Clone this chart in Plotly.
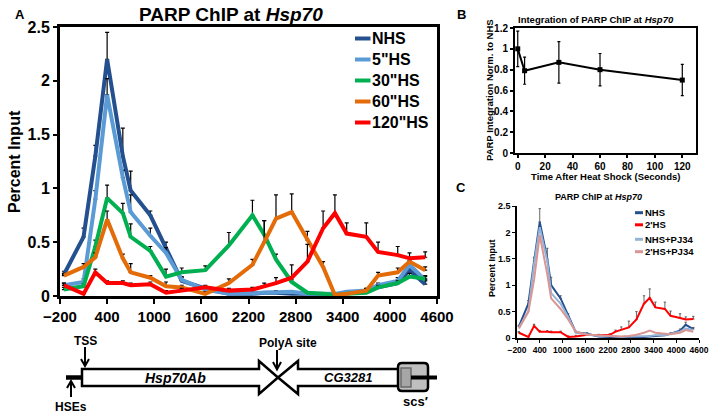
import plotly.graph_objects as go

W, H = 714, 417
FONT = "Liberation Sans"

# ---------------- data ----------------
# primer positions (bp relative to Hsp70 TSS)
positions = [-150, 100, 250, 400, 600, 700, 950, 1150, 1350, 1650, 1950, 2250,
             2400, 2550, 2750, 2950, 3150, 3300, 3450, 3700, 3850, 4100, 4250, 4450]

# Panel A: PARP ChIP time course (percent input)
nhs_a = [0.20, 0.55, 1.30, 2.20, 1.30, 0.98, 0.75, 0.45, 0.14, 0.07, 0.02, 0.02,
         0.03, 0.03, 0.02, 0.02, 0.01, 0.01, 0.03, 0.04, 0.08, 0.12, 0.24, 0.11]
hs5_a = [0.10, 0.13, 0.90, 1.87, 1.10, 0.78, 0.56, 0.40, 0.15, 0.06, 0.02, 0.03,
         0.03, 0.04, 0.04, 0.02, 0.02, 0.02, 0.04, 0.05, 0.10, 0.14, 0.29, 0.15]
hs30_a = [0.06, 0.09, 0.46, 0.91, 0.77, 0.55, 0.42, 0.18, 0.22, 0.24, 0.47, 0.75,
          0.57, 0.34, 0.13, 0.03, 0.02, 0.01, 0.02, 0.03, 0.08, 0.12, 0.18, 0.16]
hs60_a = [0.19, 0.27, 0.36, 0.71, 0.35, 0.22, 0.17, 0.09, 0.08, 0.02, 0.12, 0.29,
          0.50, 0.72, 0.78, 0.52, 0.27, 0.01, 0.02, 0.05, 0.19, 0.22, 0.32, 0.24]
hs120_a = [0.10, 0.02, 0.22, 0.12, 0.12, 0.10, 0.11, 0.03, 0.05, 0.08, 0.05, 0.06,
           0.09, 0.12, 0.17, 0.32, 0.63, 0.77, 0.58, 0.55, 0.41, 0.38, 0.35, 0.36]

err_nhs_a = [0.03, 0.08, 0.10, 0.25, 0.26, 0.18, 0.04, 0.05, 0.03, 0.02, 0.01, 0.01,
             0.01, 0.01, 0.01, 0.01, 0.01, 0.01, 0.01, 0.02, 0.02, 0.03, 0.03, 0.03]
err_hs5_a = [0.02, 0.03, 0.08, 0.15, 0.07, 0.16, 0.07, 0.05, 0.03, 0.02, 0.01, 0.01,
             0.01, 0.01, 0.01, 0.01, 0.01, 0.01, 0.01, 0.02, 0.02, 0.03, 0.04, 0.03]
err_hs30_a = [0.02, 0.02, 0.06, 0.12, 0.09, 0.12, 0.04, 0.07, 0.04, 0.04, 0.12, 0.14,
              0.13, 0.05, 0.02, 0.01, 0.01, 0.01, 0.01, 0.01, 0.02, 0.02, 0.03, 0.03]
err_hs60_a = [0.02, 0.03, 0.04, 0.08, 0.04, 0.08, 0.02, 0.04, 0.02, 0.02, 0.04, 0.05,
              0.20, 0.22, 0.17, 0.08, 0.05, 0.01, 0.01, 0.02, 0.03, 0.04, 0.04, 0.03]
err_hs120_a = [0.02, 0.01, 0.03, 0.02, 0.02, 0.02, 0.02, 0.02, 0.02, 0.02, 0.02, 0.02,
               0.03, 0.05, 0.12, 0.16, 0.16, 0.17, 0.10, 0.13, 0.09, 0.08, 0.05, 0.05]

names_a = ["NHS", '5"HS', '30"HS', '60"HS', '120"HS']
colors_a = ["#24508f", "#5b9bd5", "#00b050", "#e36c09", "#ff0000"]

# Panel B: integration normalised to NHS
time_s = [0, 5, 30, 60, 120]
integ = [1.00, 0.79, 0.87, 0.80, 0.70]
integ_err = [0.17, 0.13, 0.20, 0.155, 0.15]
ticks_b_x = [0, 20, 40, 60, 80, 100, 120]

# Panel C: PARP ChIP +/- PJ34
nhs_c = [0.22, 0.65, 1.45, 2.20, 1.50, 1.00, 0.75, 0.42, 0.11, 0.08, 0.03, 0.02,
         0.02, 0.01, 0.02, 0.02, 0.02, 0.03, 0.04, 0.05, 0.08, 0.14, 0.25, 0.17]
hs2_c = [0.10, 0.02, 0.23, 0.12, 0.12, 0.11, 0.11, 0.02, 0.03, 0.06, 0.05, 0.06,
         0.12, 0.16, 0.20, 0.35, 0.65, 0.76, 0.58, 0.55, 0.42, 0.38, 0.35, 0.36]
nhs_pj_c = [0.20, 0.50, 1.40, 2.10, 1.45, 0.85, 0.65, 0.40, 0.10, 0.07, 0.04, 0.04,
            0.03, 0.02, 0.03, 0.03, 0.04, 0.04, 0.05, 0.05, 0.08, 0.12, 0.18, 0.15]
hs2_pj_c = [0.18, 0.50, 1.10, 1.95, 1.20, 0.75, 0.55, 0.35, 0.12, 0.06, 0.05, 0.04,
            0.03, 0.03, 0.04, 0.06, 0.10, 0.14, 0.10, 0.08, 0.07, 0.10, 0.15, 0.12]
err_nhs_c = [0.02, 0.06, 0.08, 0.25, 0.20, 0.15, 0.05, 0.04, 0.02, 0.02, 0.01, 0.01,
             0.01, 0.01, 0.01, 0.01, 0.01, 0.01, 0.01, 0.02, 0.02, 0.03, 0.05, 0.03]
err_hs2_c = [0.02, 0.01, 0.03, 0.02, 0.02, 0.02, 0.02, 0.02, 0.02, 0.02, 0.02, 0.02,
             0.03, 0.05, 0.12, 0.15, 0.15, 0.17, 0.10, 0.13, 0.09, 0.08, 0.05, 0.05]
names_c = ["NHS", "2'HS", "NHS+PJ34", "2'HS+PJ34"]
colors_c = ["#24508f", "#ff0000", "#95b3d7", "#d99694"]

ticks_pos = [-200, 400, 1000, 1600, 2200, 2800, 3400, 4000, 4600]


# ---------------- helpers ----------------
def fx(px):
    return px / W


def fy(py):
    return 1 - py / H


fig = go.Figure()

# Panel A traces
series_a = [nhs_a, hs5_a, hs30_a, hs60_a, hs120_a]
errs_a = [err_nhs_a, err_hs5_a, err_hs30_a, err_hs60_a, err_hs120_a]
for name, vals, err, col in zip(names_a, series_a, errs_a, colors_a):
    fig.add_trace(go.Scatter(
        x=positions, y=vals, name=name, mode="lines",
        line=dict(color=col, width=4),
        error_y=dict(type="data", symmetric=False, array=err,
                     arrayminus=[0] * len(err), color="black",
                     thickness=1.2, width=2),
        xaxis="x", yaxis="y", showlegend=False))

# Panel B trace
fig.add_trace(go.Scatter(
    x=time_s, y=integ, mode="lines+markers",
    line=dict(color="black", width=2),
    marker=dict(symbol="square", size=5, color="black"),
    error_y=dict(type="data", array=integ_err, color="black",
                 thickness=1.2, width=1.5),
    xaxis="x2", yaxis="y2", showlegend=False))

# Panel C traces
series_c = [nhs_c, hs2_c, nhs_pj_c, hs2_pj_c]
errs_c = [err_nhs_c, err_hs2_c, None, None]
for name, vals, err, col in zip(names_c, series_c, errs_c, colors_c):
    ey = None
    if err is not None:
        ey = dict(type="data", symmetric=False, array=err,
                  arrayminus=[0] * len(err), color="#404040",
                  thickness=0.8, width=1.2)
    fig.add_trace(go.Scatter(
        x=positions, y=vals, name=name, mode="lines",
        line=dict(color=col, width=2), error_y=ey,
        xaxis="x3", yaxis="y3", showlegend=False))


def bold_font(size):
    return dict(family=FONT, size=size, color="black", weight="bold")


axis_common = dict(showgrid=False, zeroline=False, linecolor="black",
                   ticks="outside", tickcolor="black", fixedrange=True,
                   automargin=False, tickangle=0)

fig.update_layout(
    width=W, height=H, margin=dict(l=0, r=0, t=0, b=0, autoexpand=False),
    paper_bgcolor="white", plot_bgcolor="white", showlegend=False,
    font=dict(family=FONT, color="black"),
    xaxis=dict(domain=[fx(60), fx(437)], range=[-200, 4600], anchor="y",
               tickvals=ticks_pos, linewidth=3, mirror=True, ticklen=5,
               tickwidth=2, tickfont=bold_font(15), ticklabelstandoff=0,
               **axis_common),
    yaxis=dict(domain=[fy(296), fy(27)], range=[0, 2.5], dtick=0.5, anchor="x",
               linewidth=3, mirror=True, ticklen=4, tickwidth=2,
               tickfont=bold_font(16), **axis_common),
    xaxis2=dict(domain=[fx(515), fx(696)], range=[-2, 130], anchor="y2",
                tickvals=ticks_b_x, linewidth=2, mirror=True, ticklen=3,
                tickwidth=1.5, tickfont=bold_font(10), **axis_common),
    yaxis2=dict(domain=[fy(153), fy(28)], range=[0, 1.2], dtick=0.2, anchor="x2",
                linewidth=2, mirror=True, ticklen=3, tickwidth=1.5,
                tickfont=bold_font(10), **axis_common),
    xaxis3=dict(domain=[fx(517), fx(699)], range=[-200, 4600], anchor="y3",
                tickvals=ticks_pos, linewidth=1.5, ticklen=3, tickwidth=1,
                tickfont=bold_font(8.5), **axis_common),
    yaxis3=dict(domain=[fy(338), fy(206)], range=[0, 2.5], dtick=0.5, anchor="x3",
                linewidth=1.5, ticklen=3, tickwidth=1,
                tickfont=bold_font(9), **axis_common),
)


def txt(s, px, py, size, xanchor="center", angle=0):
    fig.add_annotation(text=s, x=fx(px), y=fy(py), xref="paper", yref="paper",
                       showarrow=False, font=bold_font(size), xanchor=xanchor,
                       yanchor="middle", textangle=angle, borderpad=0)


def seg(x0, y0, x1, y1, width, color="black"):
    fig.add_shape(type="line", xref="paper", yref="paper",
                  x0=fx(x0), y0=fy(y0), x1=fx(x1), y1=fy(y1),
                  line=dict(color=color, width=width))


def poly(points, fill, color="black", width=2.5, close=True):
    d = "M " + " L ".join(f"{fx(a):.5f},{fy(b):.5f}" for a, b in points)
    if close:
        d += " Z"
    fig.add_shape(type="path", xref="paper", yref="paper", path=d,
                  fillcolor=fill, line=dict(color=color, width=width))


# ----- titles / labels -----
txt("A", 20, 14, 13)
txt("B", 461, 14, 13)
txt("C", 461, 187, 13)
txt("PARP ChIP at <i>Hsp70</i>", 231, 14, 19)
txt("Percent Input", 14, 162, 16, angle=-90)
txt("Integration of PARP ChIP at <i>Hsp70</i>", 596, 19, 9.5)
txt("PARP Integration Norm. to NHS", 489, 90, 9.5, angle=-90)
txt("Time After Heat Shock (Seconds)", 605, 176, 9.5)
txt("PARP ChIP at <i>Hsp70</i>", 598, 197, 9)
txt("Percent Input", 492, 268, 9, angle=-90)

# ----- legends -----
for i, (name, col) in enumerate(zip(names_a, colors_a)):
    py = 38.5 + 21 * i
    seg(355, py, 370.5, py, 4, col)
    txt(name, 371, py, 16, xanchor="left")

legend_c_rows = [212.7, 224.8, 239.3, 251.7]
for py, name, col in zip(legend_c_rows, names_c, colors_c):
    seg(635, py, 643, py, 3, col)
    txt(name, 643.5, py, 9.5, xanchor="left")

# ----- gene diagram -----
mid = 377.5
seg(66, mid, 83, mid, 4.5)  # HSE region
poly([(82, 369), (259, 369), (259, 361), (278, mid), (259, 394), (259, 386), (82, 386)], "white")
poly([(400, 369), (298, 369), (298, 361), (278, mid), (298, 394), (298, 386), (400, 386)], "white")

# scs' rounded box
x0, x1, y0, y1, r = 398, 428, 363, 391, 4
rounded = (f"M {fx(x0 + r)},{fy(y0)} L {fx(x1 - r)},{fy(y0)} Q {fx(x1)},{fy(y0)} {fx(x1)},{fy(y0 + r)} "
           f"L {fx(x1)},{fy(y1 - r)} Q {fx(x1)},{fy(y1)} {fx(x1 - r)},{fy(y1)} "
           f"L {fx(x0 + r)},{fy(y1)} Q {fx(x0)},{fy(y1)} {fx(x0)},{fy(y1 - r)} "
           f"L {fx(x0)},{fy(y0 + r)} Q {fx(x0)},{fy(y0)} {fx(x0 + r)},{fy(y0)} Z")
fig.add_shape(type="path", xref="paper", yref="paper", path=rounded,
              fillcolor="#bfbfbf", line=dict(color="black", width=2.5))
poly([(401, 368), (411, 368), (411, 387), (401, 387)], "#a6a6a6", color="#6a6a6a", width=1.5)
seg(411, mid, 437, mid, 4)

# arrows
seg(85, 347, 85, 365, 2)
poly([(81, 359), (85, 366), (89, 359)], "rgba(0,0,0,0)", width=2, close=False)
seg(277, 350, 277, 369, 2)
poly([(273, 362), (277, 369.5), (281, 362)], "rgba(0,0,0,0)", width=2, close=False)
seg(71, 397, 71, 382, 2)
poly([(67, 388), (71, 381), (75, 388)], "rgba(0,0,0,0)", width=2, close=False)

txt("TSS", 85, 341, 12)
txt("HSEs", 71, 407, 12)
txt("PolyA site", 288, 343, 12)
txt("<i>Hsp70Ab</i>", 175, 378, 14)
txt("<i>CG3281</i>", 348, 377.5, 13)
txt("scs\u2032", 415, 401, 13)

fig.write_html("out.html",
               config={"displayModeBar": False},
               post_script="document.body.style.margin='0px';"
                           "document.body.style.overflow='hidden';")
